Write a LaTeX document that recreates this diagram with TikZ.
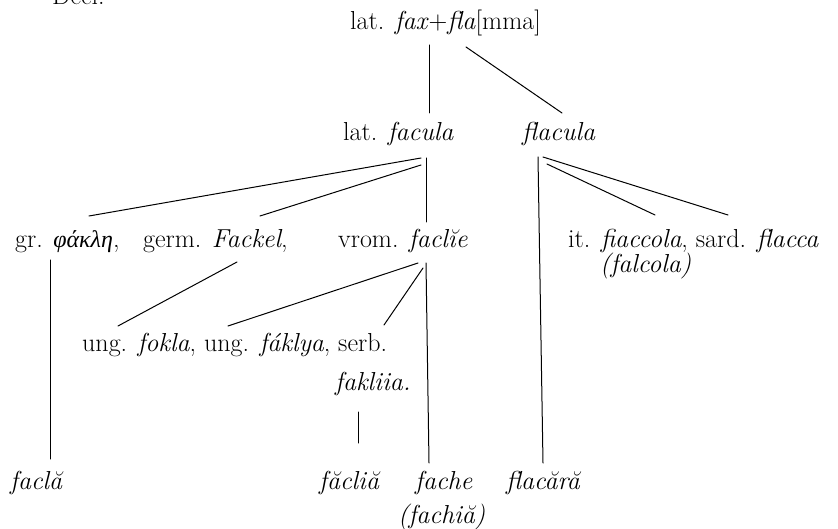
\documentclass[tikz,border=0pt]{standalone}
\usepackage{fontspec}
\newfontfamily\grk{Liberation Serif}
\tikzset{
  lbl/.style={inner sep=0pt, anchor=base west, font=\fontsize{26}{30}\selectfont},
  ln/.style={line width=1pt, line cap=round}
}
\begin{document}
\begin{tikzpicture}[x=1pt,y=-1pt]
\useasboundingbox (0,0) rectangle (838,529);
\begin{scope}
\clip (0,0) rectangle (838,529);
\node[lbl] (deci) at (52,5) {Deci:};
\end{scope}
\node[lbl] (top) at (350,30) {lat. \textit{fax}+\textit{fla}[mma]};
\node[lbl] (facula) at (343,141) {lat. \textit{facula}};
\node[lbl] (flacula) at (522,141) {\textit{flacula}};
\node[lbl] (gr) at (15,248) {gr. {\grk\itshape\fontsize{24}{28}\selectfont φάκλη},};
\node[lbl] (germ) at (143,248) {germ. \textit{Fackel},};
\node[lbl] (vrom) at (338,248) {vrom. \textit{faclĭe}};
\node[lbl] (it) at (568,248) {it. \textit{fiaccola}, sard. \textit{flacca}};
\node[lbl] (falcola) at (600,273) {\textit{(falcola)}};
\node[lbl] (ung) at (82,352) {ung. \textit{fokla}, ung. \textit{fáklya}, serb.};
\node[lbl] (fakl) at (335,390) {\textit{fakliia.}};
\node[lbl] (facla) at (10,489) {\textit{faclă}};
\node[lbl] (facl2) at (319,489) {\textit{făcliă}};
\node[lbl] (fache) at (415,489) {\textit{fache}};
\node[lbl] (fachia) at (398,523) {\textit{(fachiă)}};
\node[lbl] (flacara) at (506,489) {\textit{flacără}};

\draw[ln] ([shift={(79,15)}]top.base west) -- ([shift={(86,-28)}]facula.base west);
\draw[ln] ([shift={(116,17)}]top.base west) -- ([shift={(40,-28)}]flacula.base west);
\draw[ln] ([shift={(78,17)}]facula.base west) -- ([shift={(74,-32)}]gr.base west);
\draw[ln] ([shift={(78,24)}]facula.base west) -- ([shift={(117,-32)}]germ.base west);
\draw[ln] ([shift={(83,17)}]facula.base west) -- ([shift={(88,-26)}]vrom.base west);
\draw[ln] ([shift={(16,16)}]flacula.base west) -- ([shift={(37,-26)}]flacara.base west);
\draw[ln] ([shift={(21,16)}]flacula.base west) -- ([shift={(160,-33)}]it.base west);
\draw[ln] ([shift={(25,23)}]flacula.base west) -- ([shift={(87,-33)}]it.base west);
\draw[ln] ([shift={(35,12)}]gr.base west) -- ([shift={(40,-30)}]facla.base west);
\draw[ln] ([shift={(94,14)}]germ.base west) -- ([shift={(36,-26)}]ung.base west);
\draw[ln] ([shift={(80,15)}]vrom.base west) -- ([shift={(146,-26)}]ung.base west);
\draw[ln] ([shift={(85,20)}]vrom.base west) -- ([shift={(302,-27)}]ung.base west);
\draw[ln] ([shift={(88,15)}]vrom.base west) -- ([shift={(14,-26)}]fache.base west);
\draw[ln] ([shift={(23,22)}]fakl.base west) -- ([shift={(39,-46)}]facl2.base west);
\end{tikzpicture}
\end{document}
